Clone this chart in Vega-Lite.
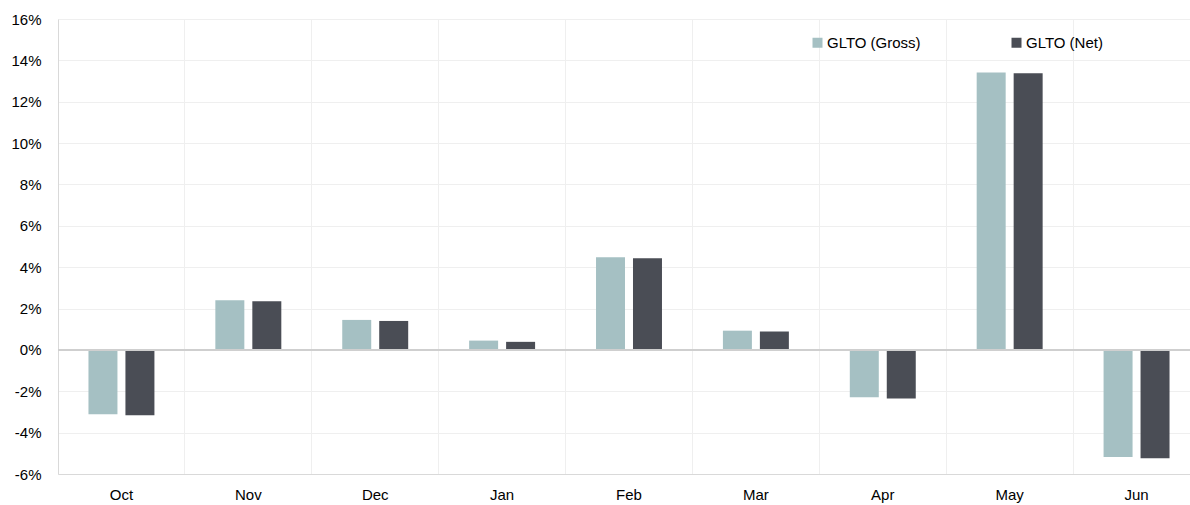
{
  "$schema": "https://vega.github.io/schema/vega-lite/v6.json",
  "width": 1142,
  "height": 455,
  "autosize": {"type": "none"},
  "padding": {"left": 58, "top": 19, "right": 0, "bottom": 31},
  "background": "white",
  "config": {"view": {"stroke": null}, "font": "Liberation Sans"},
  "data": {
    "values": [
      {"month": "Oct", "series": "GLTO (Gross)", "value": -0.0311},
      {"month": "Oct", "series": "GLTO (Net)", "value": -0.0316},
      {"month": "Nov", "series": "GLTO (Gross)", "value": 0.0240},
      {"month": "Nov", "series": "GLTO (Net)", "value": 0.0235},
      {"month": "Dec", "series": "GLTO (Gross)", "value": 0.0145},
      {"month": "Dec", "series": "GLTO (Net)", "value": 0.0140},
      {"month": "Jan", "series": "GLTO (Gross)", "value": 0.0045},
      {"month": "Jan", "series": "GLTO (Net)", "value": 0.0039},
      {"month": "Feb", "series": "GLTO (Gross)", "value": 0.0448},
      {"month": "Feb", "series": "GLTO (Net)", "value": 0.0443},
      {"month": "Mar", "series": "GLTO (Gross)", "value": 0.0093},
      {"month": "Mar", "series": "GLTO (Net)", "value": 0.0089},
      {"month": "Apr", "series": "GLTO (Gross)", "value": -0.0229},
      {"month": "Apr", "series": "GLTO (Net)", "value": -0.0235},
      {"month": "May", "series": "GLTO (Gross)", "value": 0.1341},
      {"month": "May", "series": "GLTO (Net)", "value": 0.1338},
      {"month": "Jun", "series": "GLTO (Gross)", "value": -0.0518},
      {"month": "Jun", "series": "GLTO (Net)", "value": -0.0524}
    ]
  },
  "layer": [
    {
      "mark": {"type": "bar"},
      "encoding": {
        "x": {
          "field": "month",
          "type": "nominal",
          "sort": ["Oct", "Nov", "Dec", "Jan", "Feb", "Mar", "Apr", "May", "Jun"],
          "scale": {"paddingInner": 0, "paddingOuter": 0},
          "axis": {
            "title": null,
            "labelAngle": 0,
            "ticks": false,
            "grid": true,
            "bandPosition": 0,
            "gridColor": "#efefef",
            "domainColor": "#d9d9d9",
            "labelFontSize": 15,
            "labelColor": "#000000",
            "labelPadding": 13
          }
        },
        "xOffset": {
          "field": "series",
          "type": "nominal",
          "sort": ["GLTO (Gross)", "GLTO (Net)"],
          "scale": {"paddingInner": 0.216, "paddingOuter": 0.824}
        },
        "y": {
          "field": "value",
          "type": "quantitative",
          "scale": {"domain": [-0.06, 0.16], "nice": false},
          "axis": {
            "title": null,
            "labelExpr": "replace(format(datum.value, '.0%'), '\u2212', '-')",
            "values": [-0.06, -0.04, -0.02, 0, 0.02, 0.04, 0.06, 0.08, 0.1, 0.12, 0.14, 0.16],
            "ticks": false,
            "labelPadding": 17,
            "gridColor": "#efefef",
            "domainColor": "#d9d9d9",
            "labelFontSize": 15,
            "labelColor": "#000000"
          }
        },
        "color": {
          "field": "series",
          "type": "nominal",
          "scale": {"domain": ["GLTO (Gross)", "GLTO (Net)"], "range": ["#a5c0c3", "#4a4d55"]},
          "legend": {
            "title": null,
            "orient": "none",
            "legendX": 752,
            "legendY": 16,
            "direction": "horizontal",
            "symbolType": "square",
            "symbolSize": 100,
            "symbolStrokeWidth": 0,
            "labelFontSize": 15,
            "labelColor": "#000000",
            "labelOffset": 2,
            "columnPadding": 88,
            "labelLimit": 200
          }
        }
      }
    },
    {
      "mark": {"type": "rule", "color": "#cfcfcf", "strokeWidth": 1.5},
      "encoding": {"y": {"datum": 0}}
    }
  ]
}
